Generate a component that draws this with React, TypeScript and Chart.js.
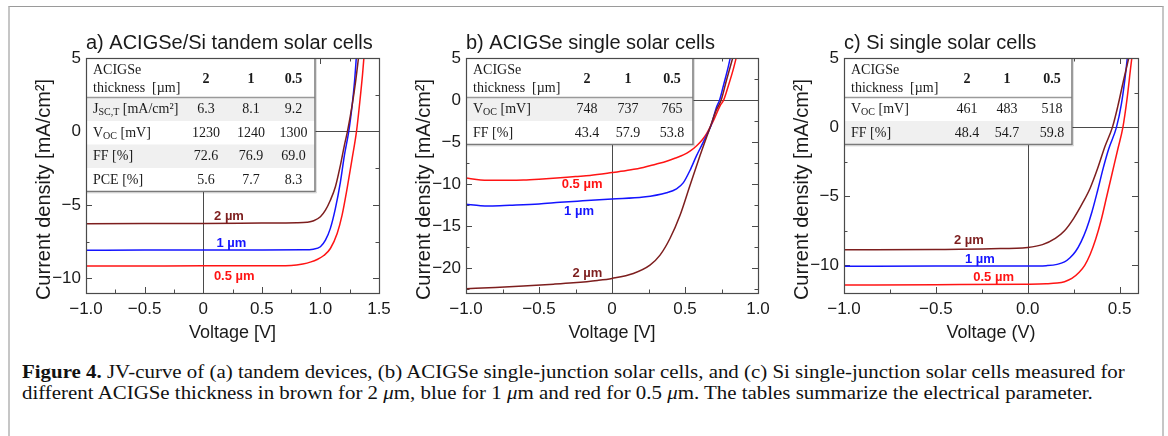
import React, { useEffect, useRef } from "react";
import { Chart, registerables } from "chart.js";

Chart.register(...registerables);

// ---------------- Data ----------------
const thicknessNames = ["2 µm", "1 µm", "0.5 µm"];
const tableColumns = ["2", "1", "0.5"];

// (a) ACIGSe/Si tandem solar cells
const aVolt2 = [-1.0, -0.5, 0.0, 0.5, 0.8, 0.886, 0.943, 1.0, 1.043, 1.085, 1.128, 1.171, 1.205, 1.231, 1.271, 1.3, 1.328];
const aCurr2 = [-6.28, -6.27, -6.26, -6.24, -6.22, -6.18, -6.08, -5.81, -5.36, -4.68, -3.77, -2.29, -0.93, 0.0, 1.79, 3.38, 5.2];
const aVolt1 = [-1.0, -0.5, 0.0, 0.5, 0.85, 0.94, 1.0, 1.043, 1.085, 1.128, 1.171, 1.205, 1.242, 1.271, 1.291, 1.308];
const aCurr1 = [-8.09, -8.08, -8.08, -8.07, -8.06, -8.02, -7.85, -7.4, -6.6, -5.24, -3.43, -1.61, 0.0, 1.79, 3.38, 5.2];
const aVolt05 = [-1.0, -0.5, 0.0, 0.5, 0.75, 0.85, 0.92, 0.972, 1.029, 1.085, 1.143, 1.185, 1.228, 1.271, 1.308, 1.336, 1.359, 1.373];
const aCurr05 = [-9.17, -9.16, -9.15, -9.15, -9.12, -9.02, -8.88, -8.72, -8.45, -7.97, -6.95, -5.7, -3.88, -1.84, 0.0, 2.0, 3.83, 5.2];

// (b) ACIGSe single solar cells
const bVolt2 = [-1.0, -0.8, -0.607, -0.4, -0.265, -0.1, 0.0, 0.146, 0.26, 0.329, 0.397, 0.466, 0.534, 0.603, 0.671, 0.712, 0.748, 0.785, 0.831];
const bCurr2 = [-22.49, -22.35, -22.17, -21.95, -21.78, -21.5, -21.26, -20.67, -19.68, -18.49, -16.51, -13.74, -10.18, -6.62, -3.3, -1.3, 0.0, 2.4, 5.26];
const bVolt1 = [-1.0, -0.9, -0.836, -0.7, -0.5, -0.356, -0.2, 0.0, 0.215, 0.374, 0.442, 0.489, 0.534, 0.58, 0.626, 0.677, 0.717, 0.737, 0.763, 0.797, 0.813];
const bCurr1 = [-12.43, -12.6, -12.63, -12.55, -12.4, -12.2, -12.02, -11.8, -11.57, -11.05, -10.58, -9.85, -8.4, -6.6, -5.0, -3.1, -0.8, 0.0, 1.7, 4.0, 5.26];
const bVolt05 = [-1.0, -0.9, -0.836, -0.7, -0.607, -0.5, -0.379, -0.25, -0.151, 0.0, 0.1, 0.215, 0.3, 0.374, 0.43, 0.489, 0.534, 0.58, 0.62, 0.648, 0.694, 0.74, 0.765, 0.797, 0.831, 0.854];
const bCurr05 = [-9.31, -9.55, -9.58, -9.58, -9.55, -9.45, -9.3, -9.12, -8.99, -8.65, -8.4, -8.05, -7.65, -7.3, -6.95, -6.55, -6.1, -5.45, -4.7, -4.0, -2.5, -0.7, 0.0, 1.7, 3.68, 5.26];

// (c) Si single solar cells
const cVolt2 = [-1.0, -0.5, -0.2, 0.0, 0.08, 0.15, 0.2, 0.25, 0.3, 0.34, 0.38, 0.42, 0.461, 0.49, 0.52, 0.555];
const cCurr2 = [-8.88, -8.85, -8.8, -8.7, -8.5, -8.05, -7.5, -6.6, -5.45, -4.4, -3.0, -1.4, 0.0, 1.5, 3.3, 5.3];
const cVolt1 = [-1.0, -0.5, 0.0, 0.1, 0.16, 0.2, 0.23, 0.26, 0.29, 0.32, 0.35, 0.38, 0.41, 0.44, 0.483, 0.51, 0.53, 0.545];
const cCurr1 = [-10.07, -10.05, -10.05, -10.02, -9.93, -9.75, -9.45, -9.0, -8.3, -7.35, -6.1, -4.6, -3.0, -1.6, 0.0, 1.7, 3.6, 5.4];
const cVolt05 = [-1.0, -0.5, 0.0, 0.1, 0.16, 0.2, 0.24, 0.28, 0.31, 0.34, 0.37, 0.4, 0.43, 0.46, 0.49, 0.518, 0.54, 0.56, 0.57];
const cCurr05 = [-11.42, -11.4, -11.36, -11.33, -11.28, -11.18, -10.95, -10.5, -10.0, -9.2, -8.1, -6.7, -5.0, -3.3, -1.6, 0.0, 2.0, 4.3, 5.4];

// Curve label anchors (data coordinates: voltage, current density)
const aLabelVolt = [0.22, 0.24, 0.265];
const aLabelCurr = [-5.77, -7.6, -9.85];
const bLabelVolt = [-0.168, -0.226, -0.205];
const bLabelCurr = [-20.63, -13.27, -10.06];
const cLabelVolt = [-0.32, -0.26, -0.186];
const cLabelCurr = [-8.21, -9.59, -10.89];

// Tables
const aJsc = ["6.3", "8.1", "9.2"];
const aVoc = ["1230", "1240", "1300"];
const aFF = ["72.6", "76.9", "69.0"];
const aPCE = ["5.6", "7.7", "8.3"];
const bVoc = ["748", "737", "765"];
const bFF = ["43.4", "57.9", "53.8"];
const cVoc = ["461", "483", "518"];
const cFF = ["48.4", "54.7", "59.8"];

// ---------------- Styles ----------------
const SANS = "'Liberation Sans', Arial, Helvetica, sans-serif";
const SERIF = "'Liberation Serif', 'Times New Roman', serif";
const COLORS = ["#7d1e1e", "#1414ff", "#ff1414"];
const AXIS = "#4a4a4a";
const CANVAS_H = 350;

type RowLabel = { base: string; sub: string; unit: string };
type TableRow = { label: RowLabel; values: string[]; shaded: boolean };

type PanelCfg = {
  id: string;
  left: number;
  width: number;
  area: { l: number; r: number; t: number; b: number };
  title: string;
  xTitle: string;
  xMin: number; xMax: number; xStep: number;
  yMin: number; yMax: number; yStep: number;
  zeroText: string;
  curves: { v: number[]; j: number[] }[];
  labels: { v: number[]; j: number[] };
  table: { width: number; cols: number[]; rows: TableRow[] };
};

const JSC: RowLabel = { base: "J", sub: "SC,T", unit: " [mA/cm²]" };
const VOC: RowLabel = { base: "V", sub: "OC", unit: " [mV]" };
const FFL: RowLabel = { base: "FF", sub: "", unit: " [%]" };
const PCEL: RowLabel = { base: "PCE", sub: "", unit: " [%]" };

const panels: PanelCfg[] = [
  {
    id: "a", left: 0, width: 410,
    area: { l: 86, r: 379, t: 58, b: 293 },
    title: "a) ACIGSe/Si tandem solar cells", xTitle: "Voltage [V]",
    xMin: -1, xMax: 1.5, xStep: 0.5, yMin: -11, yMax: 5, yStep: 5, zeroText: "0",
    curves: [{ v: aVolt2, j: aCurr2 }, { v: aVolt1, j: aCurr1 }, { v: aVolt05, j: aCurr05 }],
    labels: { v: aLabelVolt, j: aLabelCurr },
    table: {
      width: 229, cols: [120, 165, 207.5],
      rows: [
        { label: JSC, values: aJsc, shaded: true },
        { label: VOC, values: aVoc, shaded: false },
        { label: FFL, values: aFF, shaded: true },
        { label: PCEL, values: aPCE, shaded: false },
      ],
    },
  },
  {
    id: "b", left: 390, width: 400,
    area: { l: 466, r: 758, t: 58, b: 293 },
    title: "b) ACIGSe single solar cells", xTitle: "Voltage [V]",
    xMin: -1, xMax: 1, xStep: 0.5, yMin: -23, yMax: 5, yStep: 5, zeroText: "0",
    curves: [{ v: bVolt2, j: bCurr2 }, { v: bVolt1, j: bCurr1 }, { v: bVolt05, j: bCurr05 }],
    labels: { v: bLabelVolt, j: bLabelCurr },
    table: {
      width: 227, cols: [121, 162, 206],
      rows: [
        { label: VOC, values: bVoc, shaded: true },
        { label: FFL, values: bFF, shaded: false },
      ],
    },
  },
  {
    id: "c", left: 770, width: 398,
    area: { l: 844, r: 1138, t: 58, b: 293 },
    title: "c) Si single solar cells", xTitle: "Voltage (V)",
    xMin: -1, xMax: 0.6, xStep: 0.5, yMin: -12, yMax: 5, yStep: 5, zeroText: "0.0",
    curves: [{ v: cVolt2, j: cCurr2 }, { v: cVolt1, j: cCurr1 }, { v: cVolt05, j: cCurr05 }],
    labels: { v: cLabelVolt, j: cLabelCurr },
    table: {
      width: 228, cols: [123, 163, 208],
      rows: [
        { label: VOC, values: cVoc, shaded: false },
        { label: FFL, values: cFF, shaded: true },
      ],
    },
  },
];

const fmtNum = (v: number, step: number, zeroText: string) => {
  if (Math.abs(v) < 1e-9) return zeroText;
  const s = step < 1 ? v.toFixed(1) : String(Math.round(v));
  return s.replace("-", "\u2212");
};

function makeDecor(cfg: PanelCfg) {
  const drawTicks = (chart: any) => {
    const { ctx, chartArea: a, scales } = chart;
    const xs = scales.x, ys = scales.y;
    ctx.save();
    ctx.strokeStyle = AXIS;
    ctx.lineWidth = 1;
    ctx.beginPath();
    const xMinor = cfg.xStep / 2;
    for (let k = Math.ceil(cfg.xMin / xMinor - 1e-6); k * xMinor <= cfg.xMax + 1e-6; k++) {
      const v = k * xMinor;
      const major = Math.abs(v / cfg.xStep - Math.round(v / cfg.xStep)) < 1e-6;
      const len = major ? 6 : 3.5;
      const px = Math.round(xs.getPixelForValue(v)) + 0.5;
      ctx.moveTo(px, a.bottom); ctx.lineTo(px, a.bottom - len);
      ctx.moveTo(px, a.top); ctx.lineTo(px, a.top + len);
    }
    const yMinor = cfg.yStep / 2;
    for (let k = Math.ceil(cfg.yMin / yMinor - 1e-6); k * yMinor <= cfg.yMax + 1e-6; k++) {
      const v = k * yMinor;
      const major = Math.abs(v / cfg.yStep - Math.round(v / cfg.yStep)) < 1e-6;
      const len = major ? 6 : 3.5;
      const py = Math.round(ys.getPixelForValue(v)) + 0.5;
      ctx.moveTo(a.left, py); ctx.lineTo(a.left + len, py);
      ctx.moveTo(a.right, py); ctx.lineTo(a.right - len, py);
    }
    // zero lines
    const x0 = Math.round(xs.getPixelForValue(0)) + 0.5;
    const y0 = Math.round(ys.getPixelForValue(0)) + 0.5;
    ctx.moveTo(x0, a.top); ctx.lineTo(x0, a.bottom);
    ctx.moveTo(a.left, y0); ctx.lineTo(a.right, y0);
    ctx.stroke();
    ctx.restore();
  };

  const drawTable = (chart: any) => {
    const { ctx, chartArea: a } = chart;
    const t = cfg.table;
    const tl = a.left, tt = a.top;
    const headerH = 39.5, rowH = 23.5;
    const h = headerH + rowH * t.rows.length;
    ctx.save();
    ctx.fillStyle = "#ffffff";
    ctx.fillRect(tl, tt, t.width, h);
    t.rows.forEach((r, i) => {
      if (r.shaded) {
        ctx.fillStyle = "#f0f0f0";
        ctx.fillRect(tl, tt + headerH + i * rowH, t.width, rowH);
      }
    });
    // borders
    ctx.strokeStyle = "#9a9a9a";
    ctx.lineWidth = 1.5;
    ctx.beginPath();
    ctx.moveTo(tl, tt + headerH); ctx.lineTo(tl + t.width, tt + headerH);
    ctx.stroke();
    ctx.strokeStyle = "#7a7a7a";
    ctx.lineWidth = 1.5;
    ctx.beginPath();
    ctx.moveTo(tl + t.width, tt); ctx.lineTo(tl + t.width, tt + h); ctx.lineTo(tl, tt + h);
    ctx.stroke();
    ctx.strokeStyle = "rgba(0,0,0,0.12)";
    ctx.lineWidth = 1;
    ctx.beginPath();
    ctx.moveTo(tl + t.width + 1.5, tt + 1); ctx.lineTo(tl + t.width + 1.5, tt + h + 1.5); ctx.lineTo(tl + 1, tt + h + 1.5);
    ctx.stroke();

    ctx.fillStyle = "#1a1a1a";
    ctx.textBaseline = "middle";
    ctx.textAlign = "left";
    ctx.font = `14px ${SERIF}`;
    ctx.fillText("ACIGSe", tl + 7, tt + 12);
    ctx.fillText("thickness  [µm]", tl + 7, tt + 30);
    ctx.textAlign = "center";
    ctx.font = `bold 14px ${SERIF}`;
    tableColumns.forEach((c, k) => ctx.fillText(c, tl + t.cols[k], tt + 21));
    t.rows.forEach((r, i) => {
      const cy = tt + headerH + i * rowH + rowH / 2 + 0.5;
      ctx.textAlign = "left";
      ctx.font = `14px ${SERIF}`;
      let x = tl + 7;
      ctx.fillText(r.label.base, x, cy);
      x += ctx.measureText(r.label.base).width;
      if (r.label.sub) {
        ctx.font = `10px ${SERIF}`;
        ctx.fillText(r.label.sub, x, cy + 3);
        x += ctx.measureText(r.label.sub).width;
        ctx.font = `14px ${SERIF}`;
      }
      ctx.fillText(r.label.unit, x, cy);
      ctx.textAlign = "center";
      r.values.forEach((v, k) => ctx.fillText(v, tl + t.cols[k], cy));
    });
    ctx.restore();
  };

  const drawLabels = (chart: any) => {
    const { ctx, scales } = chart;
    ctx.save();
    ctx.font = `bold 13px ${SANS}`;
    ctx.textAlign = "center";
    ctx.textBaseline = "middle";
    thicknessNames.forEach((name, i) => {
      ctx.fillStyle = COLORS[i];
      ctx.fillText(name, scales.x.getPixelForValue(cfg.labels.v[i]), scales.y.getPixelForValue(cfg.labels.j[i]));
    });
    ctx.restore();
  };

  const drawFrameAndTitles = (chart: any) => {
    const { ctx, chartArea: a } = chart;
    ctx.save();
    ctx.strokeStyle = AXIS;
    ctx.lineWidth = 1.2;
    ctx.strokeRect(Math.round(a.left) + 0.5, Math.round(a.top) + 0.5, Math.round(a.right - a.left), Math.round(a.bottom - a.top));
    ctx.fillStyle = "#1a1a1a";
    ctx.textAlign = "left";
    ctx.textBaseline = "alphabetic";
    ctx.font = `20px ${SANS}`;
    ctx.fillText(cfg.title, a.left, a.top - 9);
    ctx.textAlign = "center";
    ctx.textBaseline = "middle";
    ctx.font = `18px ${SANS}`;
    ctx.fillText(cfg.xTitle, (a.left + a.right) / 2, a.bottom + 40);
    ctx.translate(a.left - 42, (a.top + a.bottom) / 2 + 14);
    ctx.rotate(-Math.PI / 2);
    ctx.font = `20px ${SANS}`;
    ctx.fillText("Current density [mA/cm²]", 0, 0);
    ctx.restore();
  };

  return {
    id: "decor_" + cfg.id,
    beforeDatasetsDraw(chart: any) { drawTicks(chart); },
    afterDatasetsDraw(chart: any) { drawTable(chart); drawLabels(chart); },
    afterDraw(chart: any) { drawFrameAndTitles(chart); },
  };
}

function Panel({ cfg }: { cfg: PanelCfg }) {
  const ref = useRef<HTMLCanvasElement>(null);
  useEffect(() => {
    const canvas = ref.current!;
    const yAxisW = cfg.area.l - cfg.left;
    const xAxisH = CANVAS_H - cfg.area.b;
    const chart = new Chart(canvas, {
      type: "line",
      data: {
        datasets: cfg.curves.map((c, i) => ({
          label: thicknessNames[i],
          data: c.v.map((v, k) => ({ x: v, y: c.j[k] })),
          borderColor: COLORS[i],
          backgroundColor: COLORS[i],
          borderWidth: 1.5,
          pointRadius: 0,
          fill: false,
          cubicInterpolationMode: "monotone",
        })),
      },
      options: {
        responsive: false,
        animation: false,
        devicePixelRatio: 1,
        events: [],
        layout: { padding: { top: cfg.area.t, left: 0, right: cfg.left + cfg.width - cfg.area.r, bottom: 0 } },
        plugins: { legend: { display: false }, title: { display: false }, tooltip: { enabled: false } },
        scales: {
          x: {
            type: "linear",
            min: cfg.xMin, max: cfg.xMax,
            border: { display: false },
            grid: { display: false, drawTicks: false },
            ticks: {
              stepSize: cfg.xStep, includeBounds: false, padding: 6,
              color: "#1a1a1a", font: { family: SANS, size: 17 },
              maxRotation: 0, autoSkip: false,
              callback: (v: any) => fmtNum(Number(v), cfg.xStep, cfg.zeroText),
            },
            afterFit: (s: any) => { s.height = xAxisH; },
          },
          y: {
            type: "linear",
            min: cfg.yMin, max: cfg.yMax,
            border: { display: false },
            grid: { display: false, drawTicks: false },
            ticks: {
              stepSize: cfg.yStep, includeBounds: false, padding: 5,
              color: "#1a1a1a", font: { family: SANS, size: 17 },
              autoSkip: false,
              callback: (v: any) => fmtNum(Number(v), cfg.yStep, "0"),
            },
            afterFit: (s: any) => { s.width = yAxisW; },
          },
        },
      },
      plugins: [makeDecor(cfg)],
    } as any);
    return () => chart.destroy();
  }, []);
  return (
    <canvas
      ref={ref}
      width={cfg.width}
      height={CANVAS_H}
      style={{ position: "absolute", left: cfg.left, top: 0, width: cfg.width, height: CANVAS_H }}
    />
  );
}

export default function App() {
  return (
    <div style={{ position: "absolute", left: 0, top: 0, width: 1168, height: 436, overflow: "hidden", background: "#fff" }}>
      <div
        style={{
          position: "absolute", left: 8, top: 6, width: 1152, height: 460,
          borderTop: "1px solid #9a9a9a", borderLeft: "2px solid #c6c6c6", borderRight: "2px solid #c6c6c6",
        }}
      />
      {panels.map((p) => (
        <Panel key={p.id} cfg={p} />
      ))}
      <div
        style={{
          position: "absolute", left: 22, top: 361, whiteSpace: "nowrap",
          fontFamily: SERIF, fontSize: 19, lineHeight: "21px", color: "#111",
          transform: "scaleX(1.1)", transformOrigin: "0 0",
        }}
      >
        <b>Figure 4.</b> JV-curve of (a) tandem devices, (b) ACIGSe single-junction solar cells, and (c) Si single-junction solar cells measured for
        <br />
        different ACIGSe thickness in brown for 2 <i>μ</i>m, blue for 1 <i>μ</i>m and red for 0.5 <i>μ</i>m. The tables summarize the electrical parameter.
      </div>
    </div>
  );
}
